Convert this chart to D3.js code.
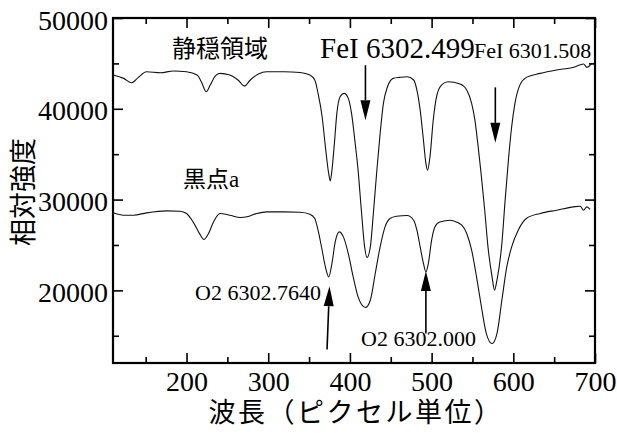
<!DOCTYPE html>
<html>
<head>
<meta charset="utf-8">
<script src="https://cdn.jsdelivr.net/npm/d3@7"></script>
<style>
  body { margin: 0; background: #fff; }
</style>
</head>
<body>
<div id="chart"></div>
<script>
const pixelTicks = [200, 300, 400, 500, 600, 700]
const pixelMinorTicks = [150, 250, 350, 450, 550, 650]
const intensityTicks = [20000, 30000, 40000, 50000]
const intensityMinorTicks = [15000, 25000, 35000, 45000]

// 静穏領域 [pixel, intensity]
const quietSpectrum = [
  [110, 43720], [123, 43350], [133, 42870], [141, 43460], [151, 44080], [168, 43970],
  [184, 44160], [200, 44080], [213, 43720], [219, 42800], [224, 41880], [229, 42610],
  [235, 43610], [241, 43900], [253, 43720], [263, 43170], [271, 42500], [278, 43170],
  [288, 43830], [298, 44080], [319, 44080], [339, 43990], [351, 43720], [357, 43170],
  [361, 41700], [366, 39120], [370, 35810], [374, 32880], [376, 32060], [378, 33240],
  [381, 36190], [384, 39490], [388, 41320], [393, 41700], [398, 41150], [402, 39490],
  [406, 36550], [410, 33240], [414, 28830], [418, 24790], [421, 23620], [425, 24790],
  [429, 28830], [433, 33240], [437, 37290], [441, 40600], [446, 42430], [453, 43350],
  [461, 43460], [470, 43530], [478, 43170], [482, 42060], [486, 39860], [490, 36550],
  [493, 33980], [495, 33240], [498, 34710], [502, 38760], [506, 41320], [512, 42610],
  [520, 42980], [535, 42720], [543, 42060], [549, 40600], [553, 38760], [557, 35810],
  [561, 32500], [565, 28830], [569, 24790], [574, 21480], [577, 20020], [580, 21120],
  [586, 25160], [590, 29940], [594, 34350], [598, 38020], [602, 40600], [608, 42610],
  [616, 43460], [633, 43900], [653, 44270], [674, 44570], [686, 44930], [690, 44570],
  [696, 45010]
]

// 黒点a [pixel, intensity]
const spotSpectrum = [
  [110, 28540], [123, 28280], [135, 28280], [151, 28540], [176, 28760], [192, 28720],
  [200, 28470], [208, 27540], [217, 26080], [221, 25600], [227, 26270], [233, 27540],
  [241, 28470], [253, 28280], [266, 28030], [274, 28100], [286, 28470], [298, 28650],
  [319, 28650], [339, 28610], [351, 28390], [357, 27920], [361, 26630], [366, 24420],
  [370, 22580], [374, 21480], [378, 22960], [382, 25340], [387, 26440], [392, 25890],
  [398, 24060], [404, 21480], [410, 19280], [419, 18110], [425, 18910], [431, 21860],
  [437, 24790], [443, 26990], [449, 27920], [457, 28170], [470, 28250], [478, 27730],
  [482, 26630], [486, 24790], [490, 22960], [493, 22030], [496, 22960], [500, 25530],
  [504, 26990], [510, 27540], [523, 27730], [527, 27650], [537, 27180], [543, 26270],
  [549, 24420], [555, 21480], [561, 18170], [567, 15240], [574, 14140], [580, 15240],
  [586, 18910], [592, 22580], [598, 24790], [606, 26630], [616, 27920], [633, 28470],
  [653, 28830], [674, 29200], [682, 29270], [686, 28830], [690, 29200], [694, 28910]
]

const seriesNames = ['静穏領域', '黒点a']
const lineNames = ['FeI 6302.499', 'FeI 6301.508', 'O2 6302.7640', 'O2 6302.000']
// 矢印: 始点 -> 先端 (data units)
const lineArrows = [
  [[419, 44800], [419, 38750]],
  [[578, 42360], [578, 36250]],
  [[372, 13480], [375, 20460]],
  [[493, 15240], [493, 22140]]
]

const chartWidth = 617
const chartHeight = 433
const plot = { left: 113, right: 595, top: 18, bottom: 363 }
const serif = "Liberation Serif, Times New Roman, Noto Sans CJK JP, serif"
const cjk = "Noto Sans CJK JP, sans-serif"

const svg = d3
  .select('#chart')
  .append('svg')
  .attr('width', chartWidth)
  .attr('height', chartHeight)

const scaleX = d3.scaleLinear().domain([110, 700]).range([plot.left, plot.right])
const scaleY = d3.scaleLinear().domain([12000, 50000]).range([plot.bottom, plot.top])

function addAxis(axis, transform, withLabels) {
  const g = svg
    .append('g')
    .attr('transform', transform)
    .call(axis.tickFormat(d3.format('d')))
    .attr('font-family', serif)
    .attr('font-size', 28)
  g.select('.domain').remove()
  g.selectAll('.tick line').attr('stroke', '#000').attr('stroke-width', 1.6)
  g.selectAll('text').attr('fill', '#000')
  if (!withLabels) g.selectAll('text').remove()
  return g
}

function createAxes() {
  // 下
  addAxis(d3.axisBottom(scaleX).tickValues(pixelTicks).tickSizeInner(-10).tickSizeOuter(0).tickPadding(8),
    'translate(0,' + plot.bottom + ')', true)
  addAxis(d3.axisBottom(scaleX).tickValues(pixelMinorTicks).tickSizeInner(-6).tickSizeOuter(0),
    'translate(0,' + plot.bottom + ')', false)
  // 上
  addAxis(d3.axisTop(scaleX).tickValues(pixelTicks).tickSizeInner(-10).tickSizeOuter(0),
    'translate(0,' + plot.top + ')', false)
  addAxis(d3.axisTop(scaleX).tickValues(pixelMinorTicks).tickSizeInner(-6).tickSizeOuter(0),
    'translate(0,' + plot.top + ')', false)
  // 左
  addAxis(d3.axisLeft(scaleY).tickValues(intensityTicks).tickSizeInner(-10).tickSizeOuter(0).tickPadding(5),
    'translate(' + plot.left + ',0)', true)
    .selectAll('text').attr('dy', '0.4em')
  addAxis(d3.axisLeft(scaleY).tickValues(intensityMinorTicks).tickSizeInner(-6).tickSizeOuter(0),
    'translate(' + plot.left + ',0)', false)
  // 右
  addAxis(d3.axisRight(scaleY).tickValues(intensityTicks).tickSizeInner(-10).tickSizeOuter(0),
    'translate(' + plot.right + ',0)', false)
  addAxis(d3.axisRight(scaleY).tickValues(intensityMinorTicks).tickSizeInner(-6).tickSizeOuter(0),
    'translate(' + plot.right + ',0)', false)

  svg
    .append('rect')
    .attr('x', plot.left)
    .attr('y', plot.top)
    .attr('width', plot.right - plot.left)
    .attr('height', plot.bottom - plot.top)
    .attr('fill', 'none')
    .attr('stroke', '#000')
    .attr('stroke-width', 2.2)
}
createAxes()

function createLines() {
  const line = d3
    .line()
    .x(d => scaleX(d[0]))
    .y(d => scaleY(d[1]))
    .curve(d3.curveMonotoneX)

  svg
    .append('g')
    .selectAll('path')
    .data([quietSpectrum, spotSpectrum])
    .enter()
    .append('path')
    .attr('d', line)
    .attr('fill', 'none')
    .attr('stroke', '#111')
    .attr('stroke-width', 1.1)
}
createLines()

function createArrows() {
  const headLen = 20
  const headHalf = 5
  const g = svg.append('g')
  lineArrows.forEach(a => {
    const x1 = scaleX(a[0][0]), y1 = scaleY(a[0][1])
    const x2 = scaleX(a[1][0]), y2 = scaleY(a[1][1])
    const len = Math.hypot(x2 - x1, y2 - y1)
    const ux = (x2 - x1) / len, uy = (y2 - y1) / len
    const bx = x2 - ux * headLen, by = y2 - uy * headLen
    g.append('line')
      .attr('x1', x1).attr('y1', y1)
      .attr('x2', bx).attr('y2', by)
      .attr('stroke', '#000')
      .attr('stroke-width', 1.6)
    g.append('polygon')
      .attr('points', [
        [x2, y2],
        [bx - uy * headHalf, by + ux * headHalf],
        [bx + uy * headHalf, by - ux * headHalf]
      ].map(p => p.join(',')).join(' '))
      .attr('fill', '#000')
  })
}
createArrows()

function createLabels() {
  const labels = [
    { text: seriesNames[0], x: 172, y: 57, size: 24, font: cjk },
    { text: seriesNames[1], x: 183, y: 187, size: 23, font: serif },
    { text: lineNames[0], x: 320, y: 58, size: 29, font: serif },
    { text: lineNames[1], x: 474, y: 58, size: 22, font: serif },
    { text: lineNames[2], x: 195, y: 300, size: 22, font: serif },
    { text: lineNames[3], x: 361, y: 346, size: 22, font: serif }
  ]
  svg
    .append('g')
    .selectAll('text')
    .data(labels)
    .enter()
    .append('text')
    .text(d => d.text)
    .attr('x', d => d.x)
    .attr('y', d => d.y)
    .attr('fill', '#000')
    .attr('font-family', d => d.font)
    .attr('font-size', d => d.size)

  // 軸タイトル
  svg
    .append('text')
    .text('波長（ピクセル単位）')
    .attr('x', 356)
    .attr('y', 422)
    .attr('text-anchor', 'middle')
    .attr('font-family', cjk)
    .attr('font-size', 27)
    .attr('letter-spacing', 2.5)

  svg
    .append('text')
    .text('相対強度')
    .attr('transform', 'translate(33,192) rotate(-90)')
    .attr('text-anchor', 'middle')
    .attr('font-family', cjk)
    .attr('font-size', 27)
}
createLabels()
</script>
</body>
</html>
